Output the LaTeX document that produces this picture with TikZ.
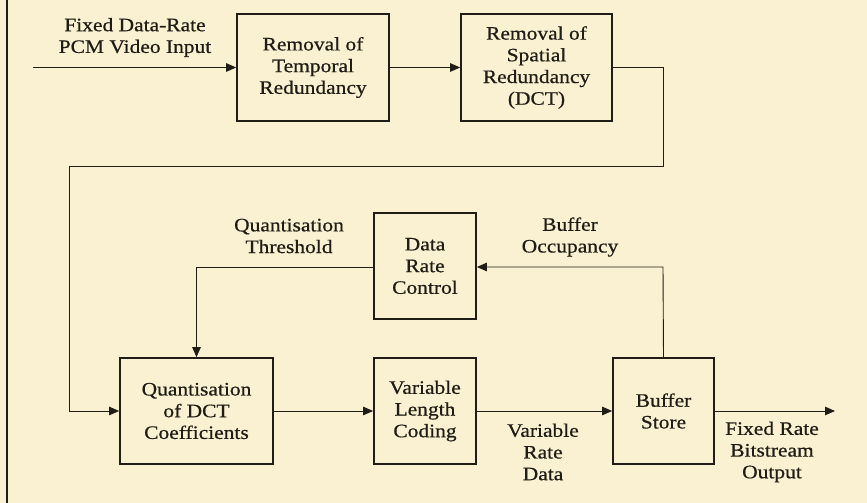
\documentclass[tikz,border=0pt]{standalone}
\usepackage{fontspec}
\setmainfont{Liberation Serif}[FakeStretch=1.13,FakeBold=0.6]
\usetikzlibrary{arrows.meta}
\definecolor{paper}{HTML}{F9F1D1}
\definecolor{ink}{HTML}{1F1D15}
\tikzset{
  blk/.style={draw=ink, line width=1.7pt, minimum width=#1, inner sep=0pt, align=center, text=ink},
  lbl/.style={align=center, text=ink, inner sep=0pt},
  conn/.style={draw=ink, line width=0.9pt},
  arr/.style={conn, -{Triangle[length=10pt,width=8.5pt]}},
}
\begin{document}
\begin{tikzpicture}[x=1pt,y=1pt,font=\fontsize{19}{21.7}\selectfont]
\fill[paper] (0,0) rectangle (867,503);
\useasboundingbox (0,0) rectangle (867,503);
\draw[ink, line width=2.6pt] (7,0) -- (7,503);

% blocks (y = 503 - image y)
\node[blk=152pt, minimum height=107pt] (b1) at (313,435.5) {Removal of\\Temporal\\Redundancy};
\node[blk=151pt, minimum height=107pt] (b2) at (536.5,435.5) {Removal of\\Spatial\\Redundancy\\(DCT)};
\node[blk=102pt, minimum height=106pt] (drc) at (425,237) {Data\\Rate\\Control};
\node[blk=153pt, minimum height=106pt] (q) at (196.5,92) {Quantisation\\of DCT\\Coefficients};
\node[blk=102pt, minimum height=106pt] (vlc) at (425,92) {Variable\\Length\\Coding};
\node[blk=101pt, minimum height=106pt] (buf) at (663.5,92) {Buffer\\Store};

% labels
\node[lbl] (lin) at (135,465.5) {Fixed Data-Rate\\PCM Video Input};
\node[lbl] (lqt) at (289,267) {Quantisation\\Threshold};
\node[lbl] (lbo) at (570,266) {Buffer\\Occupancy};
\node[lbl] (lvr) at (543,51) {Variable\\Rate\\Data};
\node[lbl] (lout) at (772,51) {Fixed Rate\\Bitstream\\Output};

% coordinates
\coordinate (in) at (33,435.5);
\coordinate (out) at (835,92);
\coordinate (c1) at (663,435.5);
\coordinate (c2) at (663,337);
\coordinate (c3) at (69,337);
\coordinate (c4) at (69,92);
\coordinate (c5) at (663,236);
\coordinate (c6) at (196.5,236);

% connectors
\draw[arr] (in) -- (b1.west);
\draw[arr] (b1.east) -- (b2.west);
\draw[arr] (b2.east) -- (c1) -- (c2) -- (c3) -- (c4) -- (q.west);
\draw[arr] (q.east) -- (vlc.west);
\draw[arr] (vlc.east) -- (buf.west);
\draw[arr] (buf.east) -- (out);
\draw[arr] (buf.north) -- (c5) -- (drc.east|-c5);
\draw[arr] (drc.west|-c6) -- (c6) -- (q.north);
\end{tikzpicture}
\end{document}
